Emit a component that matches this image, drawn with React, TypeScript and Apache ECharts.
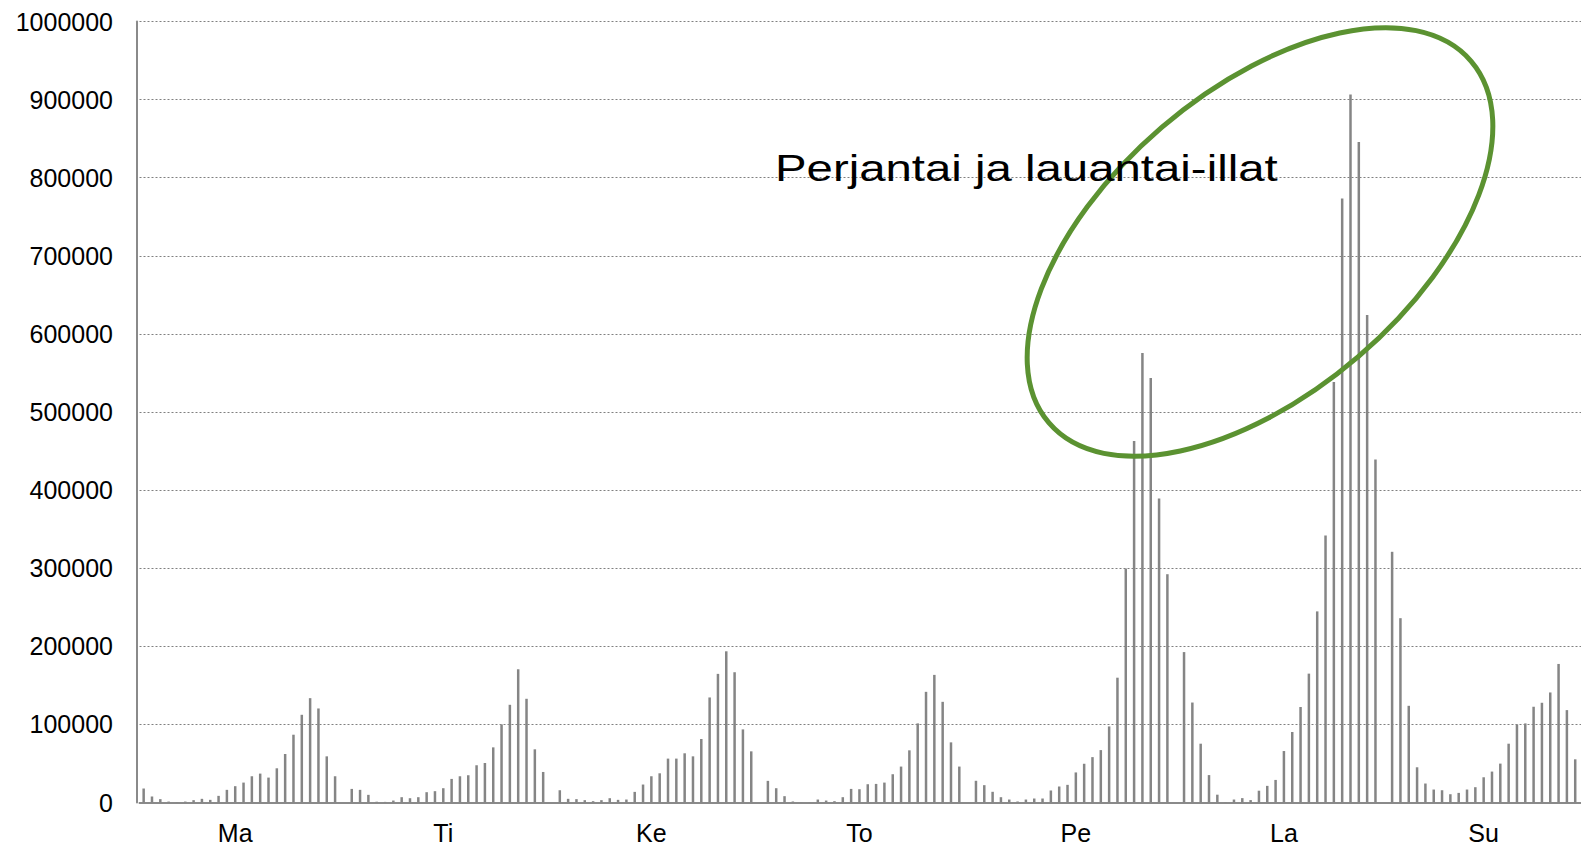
import React, { useEffect, useRef } from "react";
import * as echarts from "echarts";

// Day labels (Finnish weekday abbreviations)
const days = ["Ma", "Ti", "Ke", "To", "Pe", "La", "Su"];

// Hourly values (hours 0..23) per day
const ma = [17900, 7700, 4300, 1200, 500, 1200, 3000, 4700, 3400, 8500, 16200, 20900, 25500, 33600, 37000, 31900, 43800, 62100, 86800, 112300, 133600, 120400, 59100, 33600];
const ti = [17400, 16200, 9800, 1000, 800, 2500, 6800, 5500, 6800, 13200, 14500, 18300, 30200, 33600, 34900, 47700, 50600, 70600, 100000, 125100, 170600, 132800, 68100, 39100];
const ke = [15700, 4700, 4300, 3000, 1700, 3000, 5500, 3400, 3800, 13600, 23000, 33600, 37400, 56200, 56200, 63000, 59100, 81300, 134500, 164700, 193600, 166800, 93600, 65500];
const to = [27700, 18300, 8100, 1300, 400, 400, 3800, 2500, 1700, 6800, 17400, 17000, 23400, 23800, 25500, 36200, 46000, 66800, 101300, 141700, 163400, 128900, 77000, 46000];
const pe = [27800, 22200, 13700, 6800, 3800, 1300, 3800, 5100, 5100, 15400, 20500, 22600, 38500, 49600, 58100, 67100, 97400, 159800, 299600, 462800, 575600, 543600, 389300, 292300];
const la = [192600, 128000, 75300, 35100, 10000, 600, 3800, 5600, 3100, 15100, 21300, 28900, 65900, 90300, 122300, 165000, 244700, 341900, 538300, 773500, 906500, 845700, 624200, 439100];
const su = [321000, 236000, 123800, 45100, 24300, 16600, 15700, 10600, 12300, 16600, 19600, 32300, 39600, 49800, 75300, 100000, 101300, 122600, 127700, 140900, 177400, 118300, 55300, 30000];

const dayValues = [ma, ti, ke, to, pe, la, su];

// Y axis range / ticks
const yMin = 0;
const yMax = 1000000;
const yInterval = 100000;

const annotation = "Perjantai ja lauantai-illat";

// layout (kept out of data)
const SLOTS_PER_DAY = 25; // 24 hours + one empty slot
const labelSlot = [11, 11, 11, 11, 12, 12, 11];
const PITCH = 8.323;
const FONT = "'Liberation Sans', Arial, Helvetica, sans-serif";

export default function App() {
  const ref = useRef<HTMLDivElement>(null);

  useEffect(() => {
    if (!ref.current) return;
    const chart = echarts.init(ref.current, undefined, { renderer: "svg" });

    const categories: string[] = [];
    const values: (number | null)[] = [];
    const labelIdx = new Set<number>();
    days.forEach((d, di) => {
      for (let s = 0; s < SLOTS_PER_DAY; s++) {
        categories.push(d + " " + s);
        values.push(s < 24 ? dayValues[di][s] : null);
      }
      labelIdx.add(di * SLOTS_PER_DAY + labelSlot[di]);
    });

    chart.setOption({
      animation: false,
      grid: {
        left: 139.5,
        top: 21.5,
        height: 781,
        width: categories.length * PITCH,
      },
      xAxis: {
        type: "category",
        data: categories,
        axisLine: { show: true, lineStyle: { color: "#8a8a8a", width: 2 } },
        axisTick: { show: false },
        axisLabel: {
          interval: (i: number) => labelIdx.has(i),
          formatter: (v: string) => v.split(" ")[0],
          color: "#000",
          fontSize: 25,
          fontFamily: FONT,
          margin: 18,
          hideOverlap: false,
        },
        splitLine: { show: false },
      },
      yAxis: {
        type: "value",
        min: yMin,
        max: yMax,
        interval: yInterval,
        offset: 2.5,
        axisLine: { show: true, lineStyle: { color: "#8a8a8a", width: 2 } },
        axisTick: { show: false },
        axisLabel: {
          color: "#000",
          fontSize: 25,
          fontFamily: FONT,
          margin: 24,
          formatter: (v: number) => String(v),
        },
        splitLine: {
          show: true,
          lineStyle: { color: "#808080", width: 1, type: [2, 2] },
        },
      },
      series: [
        {
          type: "bar",
          data: values,
          barWidth: 2.5,
          itemStyle: { color: "#858585" },
        },
      ],
      graphic: [
        {
          type: "ellipse",
          x: 1260,
          y: 242,
          rotation: 0.709,
          shape: { cx: 0, cy: 0, rx: 278, ry: 151 },
          style: { fill: "none", stroke: "#5b9231", lineWidth: 5 },
          z: 100,
        },
        {
          type: "text",
          x: 775,
          y: 168,
          scaleX: 1.28,
          scaleY: 1,
          style: {
            text: annotation,
            fill: "#000",
            fontSize: 37,
            fontFamily: FONT,
            align: "left",
            verticalAlign: "middle",
          },
          z: 101,
        },
      ],
    });

    return () => chart.dispose();
  }, []);

  return (
    <div
      style={{
        position: "fixed",
        left: 0,
        top: 0,
        width: 1581,
        height: 847,
        overflow: "hidden",
        background: "#fff",
      }}
    >
      <div ref={ref} style={{ width: 1640, height: 847 }} />
    </div>
  );
}
